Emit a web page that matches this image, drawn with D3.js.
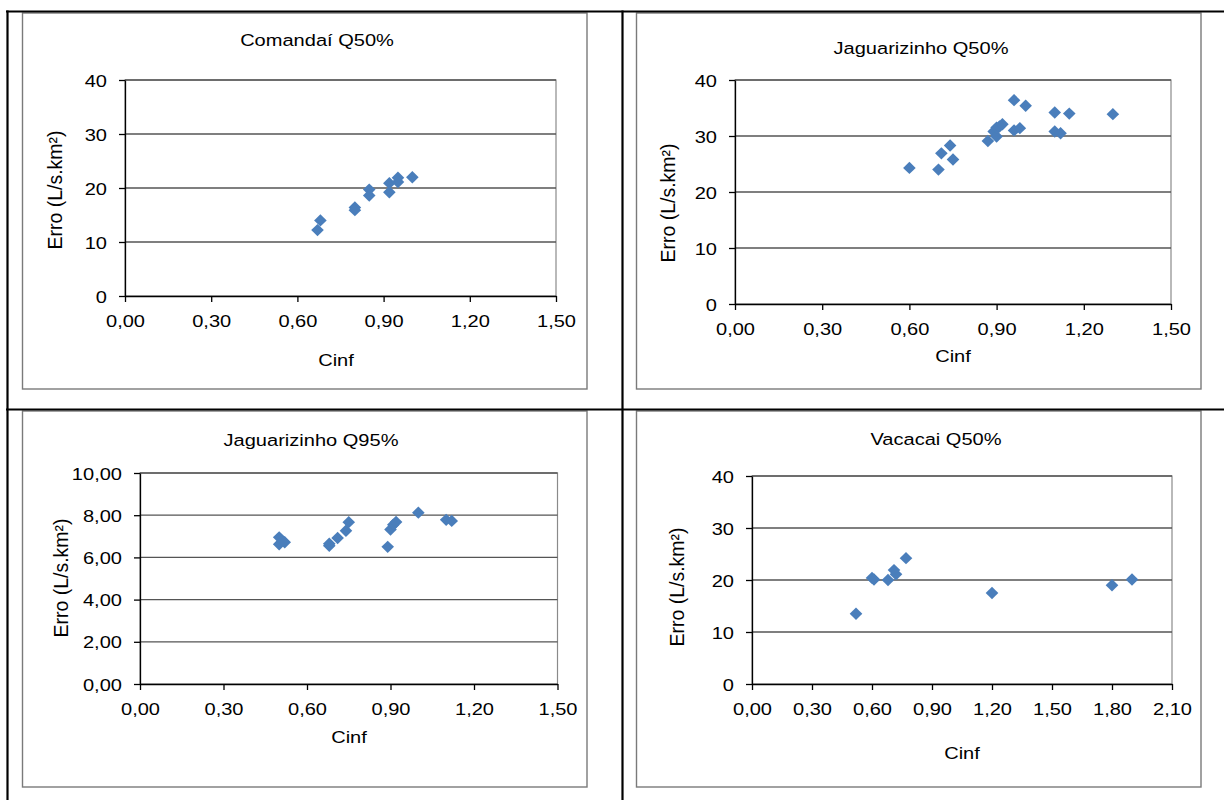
<!DOCTYPE html>
<html><head><meta charset="utf-8">
<script src="https://cdn.jsdelivr.net/npm/d3@7"></script>
<style>
body{margin:0;background:#fff}
svg{display:block}
text{font-family:"Liberation Sans",Arial,sans-serif;fill:#000}
</style>
</head><body>
<svg id="c" width="1224" height="800"></svg>
<script>
// ---------------- DATA ----------------
const titles = ["Comandaí Q50%", "Jaguarizinho Q50%", "Jaguarizinho Q95%", "Vacacai Q50%"];
const xAxisTitle = "Cinf";
const yAxisTitle = "Erro (L/s.km²)";

const comandaiCinf = [0.67, 0.68, 0.80, 0.80, 0.85, 0.85, 0.92, 0.92, 0.95, 0.95, 1.00];
const comandaiErro = [12.2, 14.0, 16.4, 15.9, 19.7, 18.6, 20.9, 19.2, 21.9, 21.1, 22.0];

const jag50Cinf = [0.60, 0.70, 0.71, 0.74, 0.75, 0.87, 0.89, 0.90, 0.90, 0.91, 0.92, 0.96, 0.96, 0.98, 1.00, 1.10, 1.10, 1.12, 1.15, 1.30];
const jag50Erro = [24.3, 24.0, 26.9, 28.3, 25.8, 29.1, 30.8, 29.9, 31.5, 31.7, 32.1, 36.4, 31.0, 31.4, 35.4, 34.2, 30.8, 30.5, 34.0, 33.9];

const jag95Cinf = [0.50, 0.50, 0.52, 0.68, 0.68, 0.71, 0.74, 0.75, 0.89, 0.90, 0.91, 0.92, 1.00, 1.10, 1.12];
const jag95Erro = [6.95, 6.62, 6.72, 6.55, 6.65, 6.92, 7.26, 7.67, 6.50, 7.32, 7.55, 7.68, 8.12, 7.78, 7.73];

const vacacaiCinf = [0.52, 0.60, 0.61, 0.68, 0.71, 0.72, 0.77, 1.20, 1.80, 1.90];
const vacacaiErro = [13.5, 20.4, 20.1, 20.0, 21.9, 21.1, 24.2, 17.5, 19.0, 20.1];

const xTicksA = [0, 0.3, 0.6, 0.9, 1.2, 1.5];
const xTickLabelsA = ["0,00", "0,30", "0,60", "0,90", "1,20", "1,50"];
const xTicksB = [0, 0.3, 0.6, 0.9, 1.2, 1.5, 1.8, 2.1];
const xTickLabelsB = ["0,00", "0,30", "0,60", "0,90", "1,20", "1,50", "1,80", "2,10"];
const yTicksA = [0, 10, 20, 30, 40];
const yTickLabelsA = ["0", "10", "20", "30", "40"];
const yTicksB = [0, 2, 4, 6, 8, 10];
const yTickLabelsB = ["0,00", "2,00", "4,00", "6,00", "8,00", "10,00"];

// ---------------- LAYOUT ----------------
const panels = [
  {title: titles[0], xs: comandaiCinf, ys: comandaiErro, xT: xTicksA, xL: xTickLabelsA, yT: yTicksA, yL: yTickLabelsA,
   plot: {l: 125, r: 556, t: 80, b: 296}, frame: {l: 22.5, t: 13, r: 587, b: 389},
   titleXY: [317, 46], cinfXY: [336, 366], yTitleXY: [61.5, 190]},
  {title: titles[1], xs: jag50Cinf, ys: jag50Erro, xT: xTicksA, xL: xTickLabelsA, yT: yTicksA, yL: yTickLabelsA,
   plot: {l: 735, r: 1171, t: 80, b: 304}, frame: {l: 636.5, t: 13, r: 1201, b: 389},
   titleXY: [921, 54], cinfXY: [953, 362], yTitleXY: [674.5, 203]},
  {title: titles[2], xs: jag95Cinf, ys: jag95Erro, xT: xTicksA, xL: xTickLabelsA, yT: yTicksB, yL: yTickLabelsB,
   plot: {l: 140, r: 557.5, t: 473, b: 684}, frame: {l: 22.5, t: 411, r: 587, b: 787},
   titleXY: [311, 446], cinfXY: [349, 743], yTitleXY: [68, 578]},
  {title: titles[3], xs: vacacaiCinf, ys: vacacaiErro, xT: xTicksB, xL: xTickLabelsB, yT: yTicksA, yL: yTickLabelsA,
   plot: {l: 752, r: 1172, t: 476, b: 684}, frame: {l: 636.5, t: 411, r: 1201, b: 787},
   titleXY: [936, 444.5], cinfXY: [962, 759], yTitleXY: [684, 587]}
];

const SX = 1.18;        // horizontal stretch of the original typography
const FS = 17;          // label font size
const markerColor = "#4a7ebb";

const svg = d3.select("#c");

// frames of the charts
panels.forEach(p => {
  const f = p.frame;
  svg.append("rect").attr("x", f.l).attr("y", f.t).attr("width", f.r - f.l).attr("height", f.b - f.t)
    .attr("fill", "#fff").attr("stroke", "#7a7a7a").attr("stroke-width", 1.4);
});

// table lines
const tbl = svg.append("g").attr("stroke", "#000").attr("stroke-width", 2.2);
tbl.append("line").attr("x1", 6).attr("x2", 1224).attr("y1", 11.5).attr("y2", 11.5);
tbl.append("line").attr("x1", 6).attr("x2", 1224).attr("y1", 409.5).attr("y2", 409.5);
tbl.append("line").attr("x1", 7.5).attr("x2", 7.5).attr("y1", 10.5).attr("y2", 800);
tbl.append("line").attr("x1", 622.5).attr("x2", 622.5).attr("y1", 10.5).attr("y2", 800);

panels.forEach(p => {
  const {l, r, t, b} = p.plot;
  const g = svg.append("g");
  const x = d3.scaleLinear().domain([p.xT[0], p.xT[p.xT.length - 1]]).range([l, r]);
  const y = d3.scaleLinear().domain([p.yT[0], p.yT[p.yT.length - 1]]).range([b, t]);

  // plot area border
  g.append("rect").attr("x", l).attr("y", t).attr("width", r - l).attr("height", b - t)
    .attr("fill", "none").attr("stroke", "#8a8a8a").attr("stroke-width", 1.2);

  // gridlines
  g.selectAll("line.grid").data(p.yT.slice(1)).join("line").attr("class", "grid")
    .attr("x1", l).attr("x2", r).attr("y1", d => y(d)).attr("y2", d => y(d))
    .attr("stroke", "#555").attr("stroke-width", 1.3);

  // axes
  const ya = d3.axisLeft(y).tickValues(p.yT).tickFormat((d, i) => p.yL[i]).tickSize(6).tickSizeOuter(0);
  const yg = g.append("g").attr("transform", `translate(${l},0)`).call(ya)
    .attr("font-family", null).attr("font-size", null);
  yg.selectAll("path, line").attr("stroke", "#000").attr("stroke-width", 1.3);
  yg.selectAll("text").attr("x", 0).attr("dy", null).attr("font-size", FS).attr("fill", "#000")
    .attr("transform", `translate(-18,6) scale(${SX},1)`);

  const xa = d3.axisBottom(x).tickValues(p.xT).tickFormat((d, i) => p.xL[i]).tickSize(6).tickSizeOuter(0);
  const xg = g.append("g").attr("transform", `translate(0,${b})`).call(xa)
    .attr("font-family", null).attr("font-size", null);
  xg.selectAll("path, line").attr("stroke", "#000").attr("stroke-width", 1.3);
  xg.selectAll("text").attr("y", 0).attr("dy", null).attr("font-size", FS).attr("fill", "#000")
    .attr("transform", `translate(0,30.5) scale(${SX},1)`);

  // title
  g.append("text").attr("text-anchor", "middle").attr("font-size", FS)
    .attr("transform", `translate(${p.titleXY[0]},${p.titleXY[1]}) scale(${SX},1)`).text(p.title);
  // x title
  g.append("text").attr("text-anchor", "middle").attr("font-size", FS)
    .attr("transform", `translate(${p.cinfXY[0]},${p.cinfXY[1]}) scale(${SX},1)`).text(xAxisTitle);
  // y title
  g.append("text").attr("text-anchor", "middle").attr("font-size", 19.5)
    .attr("transform", `translate(${p.yTitleXY[0]},${p.yTitleXY[1]}) rotate(-90)`).text(yAxisTitle);

  // markers
  const pts = p.xs.map((v, i) => [v, p.ys[i]]);
  g.selectAll("path.pt").data(pts).join("path").attr("class", "pt")
    .attr("d", "M0,-6.2L6.3,0L0,6.2L-6.3,0Z")
    .attr("transform", d => `translate(${x(d[0])},${y(d[1])})`)
    .attr("fill", markerColor);
});
</script>
</body></html>
